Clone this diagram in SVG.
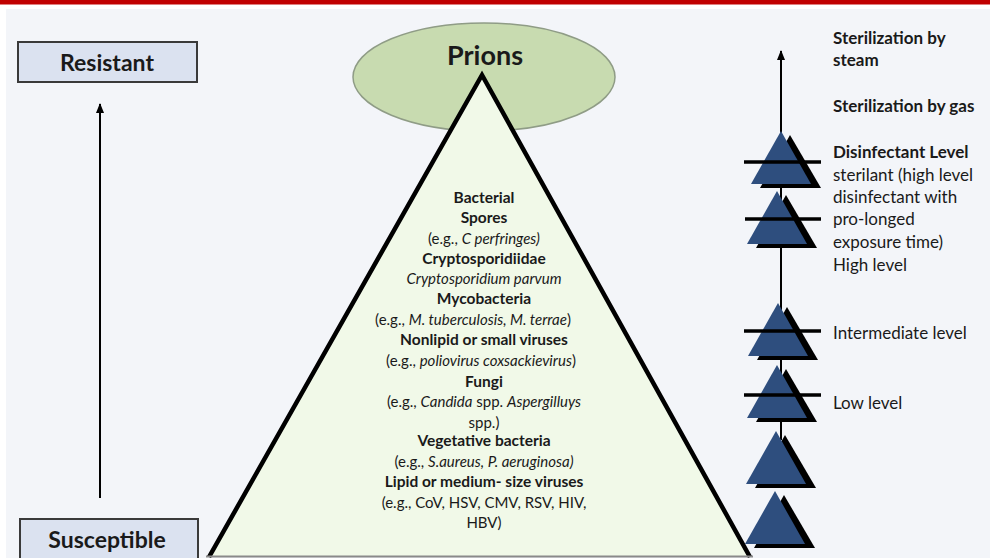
<svg xmlns="http://www.w3.org/2000/svg" width="990" height="558" viewBox="0 0 990 558">
<defs>
<style>
text{font-family:Lato,"Open Sans","Liberation Sans",sans-serif;fill:#1a1a1a}
.b{font-weight:bold}
.i{font-style:italic}
.pt{font-size:15px;text-anchor:middle}
.pt.b{font-size:15.5px}
.rt{font-size:17px}
.box{fill:#dbe2f0;stroke:#3a3a3a;stroke-width:2}
.blue{fill:#2e4e7e}
.shadow{fill:#000}
.bar{stroke:#000;stroke-width:3.5}
.conn{stroke:#000;stroke-width:2;fill:none}
</style>
<marker id="ah" viewBox="0 0 10 10" refX="9" refY="5" markerWidth="5" markerHeight="5" orient="auto">
<path d="M0,1 L10,5 L0,9 Z" fill="#000"/>
</marker>
<g id="tri">
<path class="shadow" d="M9,4 L-21,57 L40,57 Z"/>
<path class="blue" d="M0,0 L-30,53 L30,53 Z"/>
</g>
</defs>
<rect x="0" y="0" width="990" height="558" fill="#ffffff"/>
<rect x="6" y="9" width="984" height="549" fill="#f3f5f9"/>
<rect x="0" y="0" width="990" height="4.5" fill="#c00000"/>

<g id="connectors">
<line class="conn" x1="100" y1="498" x2="100" y2="104" marker-end="url(#ah)"/>
<line class="conn" x1="781" y1="440" x2="781" y2="51" marker-end="url(#ah)"/>
</g>

<g id="resistant">
<rect class="box" x="18" y="42" width="179" height="40"/>
<text class="b" x="107" y="71" font-size="23" text-anchor="middle">Resistant</text>
</g>
<g id="susceptible">
<rect class="box" x="20" y="519" width="178" height="45"/>
<text class="b" x="107" y="548" font-size="23" text-anchor="middle">Susceptible</text>
</g>

<g id="prions">
<ellipse cx="484" cy="77" rx="131" ry="54" fill="#c8dbb0" stroke="#8f9c86" stroke-width="1.5"/>
<text class="b" x="485" y="65" font-size="27" text-anchor="middle">Prions</text>
</g>

<g id="pyramid">
<polygon points="482,74 208,557 751,557" fill="#f1f9e8"/>
<path d="M209,557 L482,75 L750,557" fill="none" stroke="#000" stroke-width="4.5" stroke-linejoin="miter"/>
<line x1="206" y1="556.5" x2="753" y2="556.5" stroke="#8a8a8a" stroke-width="2"/>
<text class="pt b" x="484" y="203">Bacterial</text>
<text class="pt b" x="484" y="223">Spores</text>
<text class="pt" x="484" y="244">(e.g., <tspan class="i">C perfringes)</tspan></text>
<text class="pt b" x="484" y="264">Cryptosporidiidae</text>
<text class="pt i" x="484" y="284">Cryptosporidium parvum</text>
<text class="pt b" x="484" y="304">Mycobacteria</text>
<text class="pt" x="473" y="325">(e.g., <tspan class="i">M. tuberculosis, M. terrae</tspan>)</text>
<text class="pt b" x="484" y="345">Nonlipid or small viruses</text>
<text class="pt" x="481" y="366">(e.g., <tspan class="i">poliovirus coxsackievirus</tspan>)</text>
<text class="pt b" x="484" y="387">Fungi</text>
<text class="pt" x="484" y="407">(e.g., <tspan class="i">Candida</tspan> spp. <tspan class="i">Aspergilluys</tspan></text>
<text class="pt" x="484" y="428">spp.)</text>
<text class="pt b" x="484" y="446">Vegetative bacteria</text>
<text class="pt" x="484" y="467">(e.g., <tspan class="i">S.aureus, P. aeruginosa)</tspan></text>
<text class="pt b" x="484" y="487">Lipid or medium- size viruses</text>
<text class="pt" x="484" y="508">(e.g., CoV, HSV, CMV, RSV, HIV,</text>
<text class="pt" x="484" y="528">HBV)</text>
</g>

<g id="level-sterilant">
<use href="#tri" x="781" y="131"/>
<line class="bar" x1="744" y1="162" x2="821" y2="162"/>
</g>
<g id="level-high">
<use href="#tri" x="777" y="191"/>
<line class="bar" x1="745" y1="219" x2="821" y2="219"/>
</g>
<g id="level-intermediate">
<use href="#tri" x="778" y="303"/>
<line class="bar" x1="744" y1="331" x2="821" y2="331"/>
</g>
<g id="level-low">
<use href="#tri" x="777" y="365"/>
<line class="bar" x1="744" y1="395" x2="821" y2="395"/>
</g>
<g id="level-5">
<use href="#tri" x="776" y="431"/>
</g>
<g id="level-6">
<use href="#tri" x="775" y="491"/>
</g>

<g id="right-labels">
<text class="rt b" x="833" y="44">Sterilization by</text>
<text class="rt b" x="833" y="66">steam</text>
<text class="rt b" x="833" y="112">Sterilization by gas</text>
<text class="rt b" x="833" y="158">Disinfectant Level</text>
<text class="rt" x="833" y="181">sterilant (high level</text>
<text class="rt" x="833" y="203">disinfectant with</text>
<text class="rt" x="833" y="225">pro-longed</text>
<text class="rt" x="833" y="248">exposure time)</text>
<text class="rt" x="833" y="271">High level</text>
<text class="rt" x="833" y="339">Intermediate level</text>
<text class="rt" x="833" y="409">Low level</text>
</g>
</svg>
